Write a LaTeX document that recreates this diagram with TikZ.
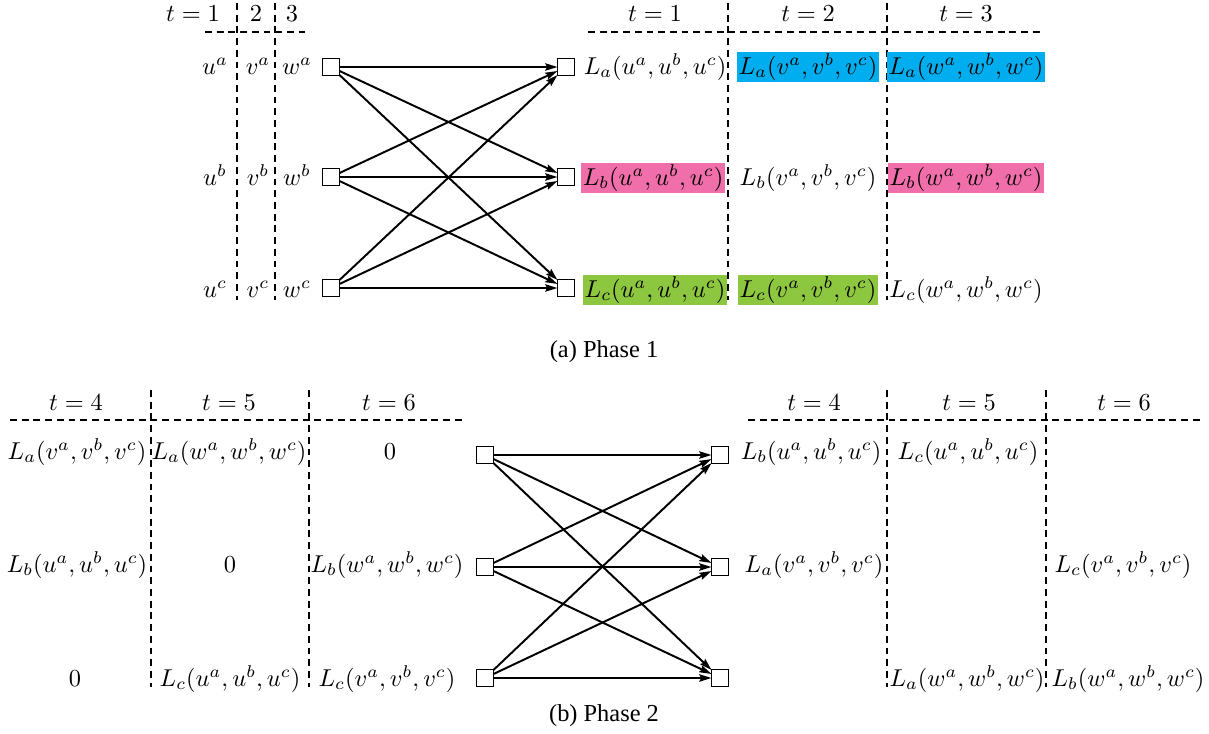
\documentclass[tikz,border=0pt]{standalone}
\usepackage[no-math]{fontspec}
\setmainfont{Liberation Serif}
\usetikzlibrary{arrows.meta}
\definecolor{hlcyan}{RGB}{0,174,239}
\definecolor{hlpink}{RGB}{240,110,170}
\definecolor{hlgreen}{RGB}{141,198,63}
\begin{document}
\begin{tikzpicture}[x=0.41pt,y=-0.41pt,
  sq/.style={draw, line width=0.4pt, minimum size=6.6pt, inner sep=0pt},
  lbl/.style={anchor=base, inner xsep=0.7pt, inner ysep=0.6pt},
  hcyan/.style={lbl, fill=hlcyan},
  hpink/.style={lbl, fill=hlpink},
  hgreen/.style={lbl, fill=hlgreen},
  sepline/.style={dash pattern=on 2.8pt off 2pt, line width=0.55pt},
  edgearrow/.style={-{Stealth[length=5pt,width=3pt,inset=0.8pt]}, line width=0.8pt},
  captext/.style={anchor=base, font=\rmfamily}
]
\useasboundingbox (0,0) rectangle (1209,733);

% ---------------- Phase 1 ----------------
% left table
\draw[sepline] (205,32) -- (310,32);
\draw[sepline] (237,3) -- (237,300);
\draw[sepline] (275,3) -- (275,300);
\node[lbl] (ht1) at (193,22) {$t=1$};
\node[lbl] (ht2) at (256,22) {$2$};
\node[lbl] (ht3) at (292,22) {$3$};
\node[lbl] (ua) at (215,74) {$u^a$};
\node[lbl] (va) at (258,74) {$v^a$};
\node[lbl] (wa) at (297,74) {$w^a$};
\node[lbl] (ub) at (215,185) {$u^b$};
\node[lbl] (vb) at (258,185) {$v^b$};
\node[lbl] (wb) at (297,185) {$w^b$};
\node[lbl] (uc) at (215,297) {$u^c$};
\node[lbl] (vc) at (258,297) {$v^c$};
\node[lbl] (wc) at (297,297) {$w^c$};

% bipartite graph
\node[sq] (p1la) at (331,67) {};
\node[sq] (p1lb) at (331,177) {};
\node[sq] (p1lc) at (331,288) {};
\node[sq] (p1ra) at (566,67) {};
\node[sq] (p1rb) at (566,177) {};
\node[sq] (p1rc) at (566,288) {};
\foreach \s in {a,b,c}{
  \foreach \t in {a,b,c}{
    \draw[edgearrow] (p1l\s) -- (p1r\t);
  }
}

% right table
\draw[sepline] (588,32) -- (1042,32);
\draw[sepline] (728,3) -- (728,300);
\draw[sepline] (887,3) -- (887,300);
\node[lbl] (rt1) at (655,22) {$t=1$};
\node[lbl] (rt2) at (808,22) {$t=2$};
\node[lbl] (rt3) at (966,22) {$t=3$};
\node[lbl] (a11) at (655,74) {$L_a(u^a,u^b,u^c)$};
\node[hcyan] (a12) at (808,74) {$L_a(v^a,v^b,v^c)$};
\node[hcyan] (a13) at (966,74) {$L_a(w^a,w^b,w^c)$};
\node[hpink] (a21) at (653,185) {$L_b(u^a,u^b,u^c)$};
\node[lbl] (a22) at (808,185) {$L_b(v^a,v^b,v^c)$};
\node[hpink] (a23) at (966,185) {$L_b(w^a,w^b,w^c)$};
\node[hgreen] (a31) at (655,297) {$L_c(u^a,u^b,u^c)$};
\node[hgreen] (a32) at (808,297) {$L_c(v^a,v^b,v^c)$};
\node[lbl] (a33) at (966,297) {$L_c(w^a,w^b,w^c)$};

\node[captext] (capa) at (604,357) {(a) Phase 1};

% ---------------- Phase 2 ----------------
% left table
\draw[sepline] (10,420) -- (463,420);
\draw[sepline] (151,390) -- (151,687);
\draw[sepline] (309,390) -- (309,687);
\node[lbl] (lt4) at (76,410) {$t=4$};
\node[lbl] (lt5) at (229,410) {$t=5$};
\node[lbl] (lt6) at (389,410) {$t=6$};
\node[lbl] (b11) at (77,459) {$L_a(v^a,v^b,v^c)$};
\node[lbl] (b12) at (229,459) {$L_a(w^a,w^b,w^c)$};
\node[lbl] (b13) at (390,459) {$0$};
\node[lbl] (b21) at (77,572) {$L_b(u^a,u^b,u^c)$};
\node[lbl] (b22) at (230,572) {$0$};
\node[lbl] (b23) at (387,572) {$L_b(w^a,w^b,w^c)$};
\node[lbl] (b31) at (75,686) {$0$};
\node[lbl] (b32) at (230,686) {$L_c(u^a,u^b,u^c)$};
\node[lbl] (b33) at (387,686) {$L_c(v^a,v^b,v^c)$};

% bipartite graph
\node[sq] (p2la) at (485,455) {};
\node[sq] (p2lb) at (485,567) {};
\node[sq] (p2lc) at (485,678) {};
\node[sq] (p2ra) at (720,455) {};
\node[sq] (p2rb) at (720,567) {};
\node[sq] (p2rc) at (720,678) {};
\foreach \s in {a,b,c}{
  \foreach \t in {a,b,c}{
    \draw[edgearrow] (p2l\s) -- (p2r\t);
  }
}

% right table
\draw[sepline] (748,420) -- (1203,420);
\draw[sepline] (887,390) -- (887,687);
\draw[sepline] (1046,390) -- (1046,687);
\node[lbl] (rt4) at (814,410) {$t=4$};
\node[lbl] (rt5) at (969,410) {$t=5$};
\node[lbl] (rt6) at (1124,410) {$t=6$};
\node[lbl] (c11) at (811,459) {$L_b(u^a,u^b,u^c)$};
\node[lbl] (c12) at (968,459) {$L_c(u^a,u^b,u^c)$};
\node[lbl] (c21) at (814,572) {$L_a(v^a,v^b,v^c)$};
\node[lbl] (c23) at (1123,572) {$L_c(v^a,v^b,v^c)$};
\node[lbl] (c32) at (967,686) {$L_a(w^a,w^b,w^c)$};
\node[lbl] (c33) at (1128,686) {$L_b(w^a,w^b,w^c)$};

\node[captext] (capb) at (604,721) {(b) Phase 2};
\end{tikzpicture}
\end{document}
